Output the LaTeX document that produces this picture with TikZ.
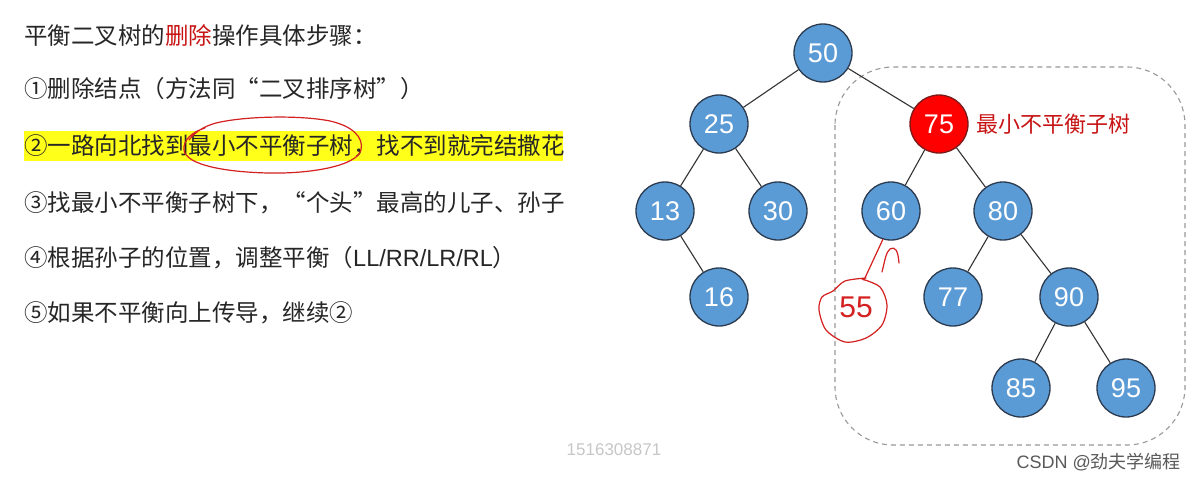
\documentclass[tikz,border=0pt]{standalone}
\usepackage{fontspec}
\setmainfont{Noto Sans CJK SC}
\newfontfamily\cjkf{Noto Sans CJK SC}
\newfontfamily\arialf{Liberation Sans}
\definecolor{nodeblue}{HTML}{5B9BD5}
\definecolor{nodeline}{HTML}{2B3A4E}
\definecolor{nodered}{HTML}{FF0000}
\definecolor{redline}{HTML}{7A1A1A}
\definecolor{labred}{HTML}{C81414}
\definecolor{txt}{HTML}{262626}
\definecolor{hl}{HTML}{FFFF1A}
\definecolor{pen}{HTML}{D42020}
\begin{document}
\begin{tikzpicture}[x=1pt,y=-1pt,
  tn/.style={circle, minimum size=58pt, inner sep=0pt, fill=nodeblue, draw=nodeline, line width=1.3pt,
    text=white, font=\arialf\fontsize{27}{27}\selectfont},
  rn/.style={tn, fill=nodered, draw=redline},
  edge/.style={draw=black!80, line width=1.1pt},
  line/.style={anchor=west, text=txt, font=\cjkf\fontsize{23.5}{28}\selectfont, inner sep=0pt},
  scrib/.style={draw=pen, line width=1.2pt, line cap=round, line join=round},
  box/.style={draw=black!40, dashed, dash pattern=on 5pt off 4pt, line width=1.1pt, rounded corners=58pt}]
\useasboundingbox (0,0) rectangle (1200,479);
\fill[white] (0,0) rectangle (1200,479);

% left text
\fill[hl] (24,131) rectangle (563,161);
\node[line] (t0) at (24,35) {平衡二叉树的\textcolor{labred}{删除}操作具体步骤：};
\node[line] (t1) at (24,89) {①删除结点（方法同“二叉排序树”）};
\node[line] (t2) at (24,146) {②一路向北找到最小不平衡子树，找不到就完结撒花};
\node[line] (t3) at (24,203) {③找最小不平衡子树下，“个头”最高的儿子、孙子};
\node[line] (t4) at (24,258) {④根据孙子的位置，调整平衡（{\arialf LL/RR/LR/RL}）};
\node[line] (t5) at (24,313) {⑤如果不平衡向上传导，继续②};

% red ellipse scribble
\draw[scrib] (189,140) .. controls (196,131) and (205,126) .. (216,123)
  .. controls (245,116) and (300,115) .. (330,121)
  .. controls (352,126) and (364,137) .. (361,150)
  .. controls (357,166) and (310,174) .. (268,173)
  .. controls (225,172) and (186,165) .. (184,150)
  .. controls (183,140) and (192,132) .. (205,128);

% dashed subtree box
\draw[box] (835,67) rectangle (1185,445);

% tree
\node[tn] (n50) at (823,53) {50};
\node[tn] (n25) at (719,124) {25};
\node[rn] (n75) at (939,124) {75};
\node[tn] (n13) at (665,211) {13};
\node[tn] (n30) at (778,211) {30};
\node[tn] (n60) at (891,211) {60};
\node[tn] (n80) at (1003,211) {80};
\node[tn] (n16) at (719,297) {16};
\node[tn] (n77) at (953,297) {77};
\node[tn] (n90) at (1069,297) {90};
\node[tn] (n85) at (1021,388) {85};
\node[tn] (n95) at (1126,388) {95};
\foreach \a/\b in {n50/n25,n50/n75,n25/n13,n25/n30,n13/n16,n75/n60,n75/n80,n80/n77,n80/n90,n90/n85,n90/n95}
  \draw[edge] (\a) -- (\b);

\node[anchor=west, text=labred, font=\cjkf\fontsize{22}{22}\selectfont, inner sep=0pt] (lab) at (976,124) {最小不平衡子树};

% handwritten deleted 55
\coordinate (s1) at (864,280);
\draw[scrib] (n60.-106) -- (s1);
\draw[scrib] (882,272) .. controls (885,260) and (886,252) .. (890,249)
  .. controls (895,246) and (898,250) .. (899,263);
\draw[scrib] plot[smooth] coordinates {(866,278) (845,281) (833,291) (822,297) (819,310) (826,330) (845,342) (866,338) (882,325) (887,305) (880,287) (862,279)};
\node[text=pen, font=\arialf\fontsize{30}{30}\selectfont, inner sep=0pt] (d55) at (856,307) {55};

% watermarks
\node[text=black!22, font=\arialf\fontsize{17}{17}\selectfont, inner sep=0pt] (wm) at (614,450) {1516308871};
\node[anchor=east, text=black!65, font=\fontsize{18}{18}\selectfont, inner sep=0pt] (csdn) at (1181,462) {{\arialf CSDN @}劲夫学编程};
\end{tikzpicture}
\end{document}
